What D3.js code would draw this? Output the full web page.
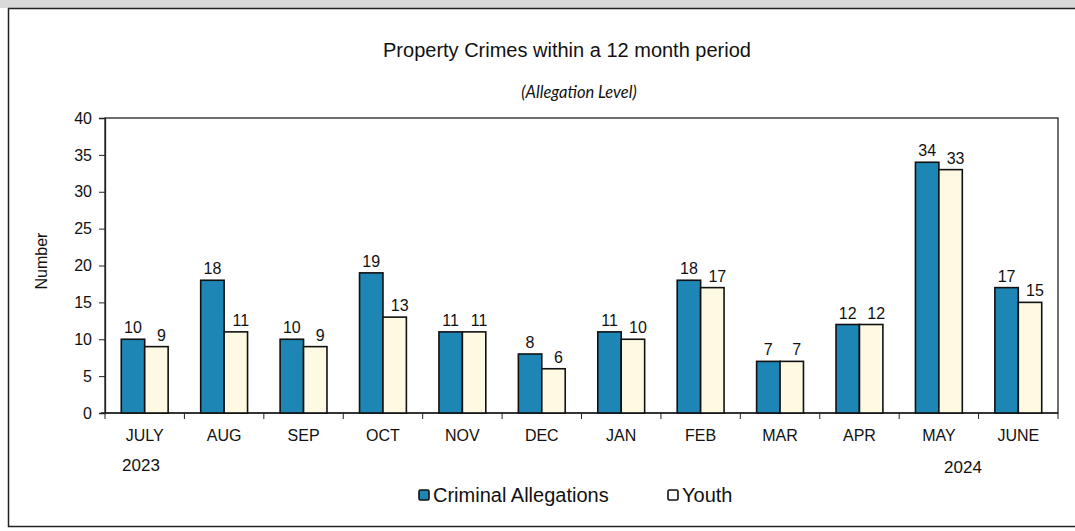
<!DOCTYPE html>
<html>
<head>
<meta charset="utf-8">
<script src="https://cdn.jsdelivr.net/npm/d3@7"></script>
<style>
  body { margin: 0; background: #fff; }
  svg text { font-family: "Liberation Sans", Arial, sans-serif; fill: #111; }
</style>
</head>
<body>
<svg id="chart" width="1075" height="531"></svg>
<script>
var months = ["JULY", "AUG", "SEP", "OCT", "NOV", "DEC", "JAN", "FEB", "MAR", "APR", "MAY", "JUNE"];
var criminal = [10, 18, 10, 19, 11, 8, 11, 18, 7, 12, 34, 17];
var youth = [9, 11, 9, 13, 11, 6, 10, 17, 7, 12, 33, 15];
var seriesNames = ["Criminal Allegations", "Youth"];
var yTicks = [0, 5, 10, 15, 20, 25, 30, 35, 40];

(function() {
    var svg = d3.select("#chart"),
        width = +svg.attr("width"),
        height = +svg.attr("height");

    var colors = ["#1e86b4", "#fdf9e2"];

    // scanned page strip + outer frame
    svg.append("rect").attr("x", 0).attr("y", 0).attr("width", width).attr("height", 8).attr("fill", "#d9d9d9");
    svg.append("rect").attr("x", 8.5).attr("y", 8.5).attr("width", width + 10).attr("height", 518)
        .attr("fill", "#fff").attr("stroke", "#222").attr("stroke-width", 1.5);

    var pLeft = 105, pRight = 1058, pTop = 118, pBottom = 413;

    var x = d3.scaleBand().domain(months).range([pLeft, pRight]).paddingInner(0.41).paddingOuter(0.205);
    var xs = d3.scaleBand().domain(seriesNames).range([0, x.bandwidth()]);
    var y = d3.scaleLinear().domain([0, 40]).range([pBottom, pTop]);

    var rows = months.map(function(m, i) {
        return { month: m, values: [criminal[i], youth[i]] };
    });

    // plot frame
    svg.append("rect").attr("x", pLeft).attr("y", pTop).attr("width", pRight - pLeft).attr("height", pBottom - pTop)
        .attr("fill", "none").attr("stroke", "#222").attr("stroke-width", 1.3);

    // y axis
    var yAxis = svg.append("g").attr("transform", "translate(" + pLeft + ",0)")
        .call(d3.axisLeft(y).tickValues(yTicks).tickSize(6).tickPadding(7));
    yAxis.select(".domain").attr("stroke", "#222").attr("stroke-width", 1.3);
    yAxis.selectAll("line").attr("stroke", "#222");
    yAxis.selectAll("text").style("font-size", "16px").attr("fill", "#111");

    // x axis ticks at band boundaries
    var xAxis = svg.append("g").attr("transform", "translate(0," + pBottom + ")");
    xAxis.append("line").attr("x1", pLeft - 4).attr("x2", pRight).attr("stroke", "#222").attr("stroke-width", 1.3);
    xAxis.selectAll(".xt").data(d3.range(months.length + 1)).enter().append("line")
        .attr("x1", function(i) { return pLeft + i * x.step(); })
        .attr("x2", function(i) { return pLeft + i * x.step(); })
        .attr("y1", 0).attr("y2", 6).attr("stroke", "#222");
    xAxis.selectAll(".xl").data(months).enter().append("text")
        .attr("x", function(d) { return x(d) + x.bandwidth() / 2; })
        .attr("y", 28).attr("text-anchor", "middle").style("font-size", "16px")
        .text(function(d) { return d; });

    // bars
    var grp = svg.selectAll(".grp").data(rows).enter().append("g")
        .attr("transform", function(d) { return "translate(" + x(d.month) + ",0)"; });

    grp.selectAll("rect").data(function(d) { return d.values; }).enter().append("rect")
        .attr("x", function(d, i) { return xs(seriesNames[i]); })
        .attr("y", function(d) { return y(d); })
        .attr("width", xs.bandwidth())
        .attr("height", function(d) { return pBottom - y(d); })
        .attr("fill", function(d, i) { return colors[i]; })
        .attr("stroke", "#111").attr("stroke-width", 1.6);

    grp.selectAll(".val").data(function(d) { return d.values; }).enter().append("text")
        .attr("x", function(d, i) { return xs(seriesNames[i]) + xs.bandwidth() / 2 + (i === 0 ? 0 : 5); })
        .attr("y", function(d) { return y(d) - 6; })
        .attr("text-anchor", "middle").style("font-size", "16px")
        .text(function(d) { return d; });

    // titles
    svg.append("text").attr("x", 567).attr("y", 57).attr("text-anchor", "middle")
        .style("font-size", "20px").text("Property Crimes within a 12 month period");
    svg.append("text").attr("x", 579).attr("y", 98).attr("text-anchor", "middle")
        .style("font-size", "16.5px").style("font-style", "italic").style("font-family", "Lato, 'Open Sans', sans-serif")
        .text("(Allegation Level)");
    svg.append("text").attr("transform", "translate(47,261) rotate(-90)").attr("text-anchor", "middle")
        .style("font-size", "16px").text("Number");

    // years
    svg.append("text").attr("x", 141).attr("y", 471).attr("text-anchor", "middle").style("font-size", "17px").text("2023");
    svg.append("text").attr("x", 963).attr("y", 473).attr("text-anchor", "middle").style("font-size", "17px").text("2024");

    // legend
    var legendX = [418, 667];
    var leg = svg.selectAll(".leg").data(seriesNames).enter().append("g")
        .attr("transform", function(d, i) { return "translate(" + legendX[i] + ",488)"; });
    leg.append("rect").attr("x", 1).attr("y", 2).attr("width", 10).attr("height", 10).attr("rx", 1.5)
        .attr("fill", function(d, i) { return i === 0 ? colors[0] : "#fff"; })
        .attr("stroke", "#111").attr("stroke-width", 1.6);
    leg.append("text").attr("x", 15).attr("y", 14).style("font-size", "20px").text(function(d) { return d; });
})();
</script>
</body>
</html>
